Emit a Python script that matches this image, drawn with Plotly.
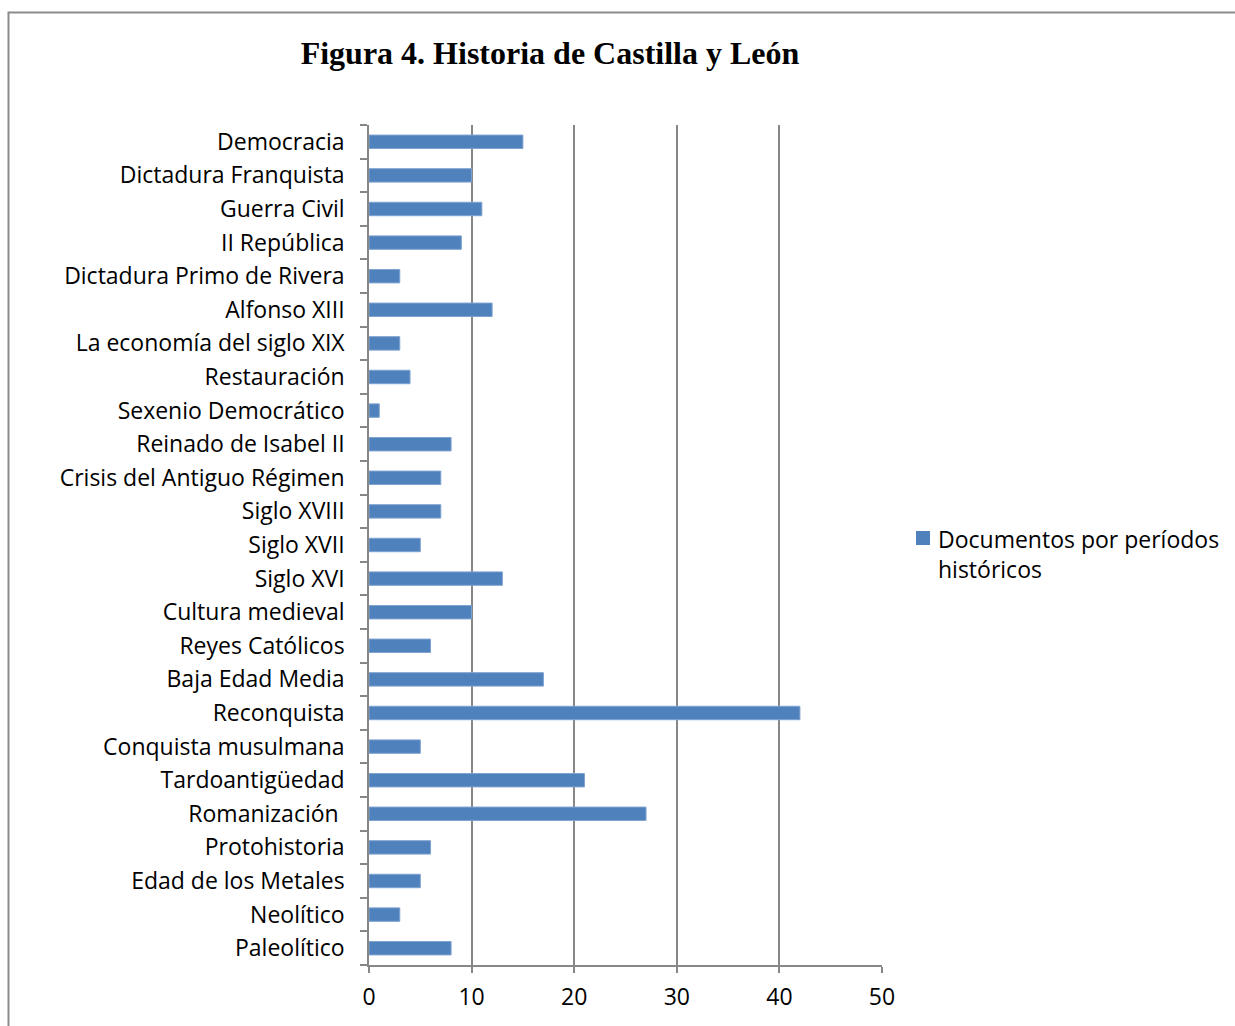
import plotly.graph_objects as go

# Historical periods (top to bottom as displayed) and number of documents per period
periodos = [
    "Democracia", "Dictadura Franquista", "Guerra Civil", "II República",
    "Dictadura Primo de Rivera", "Alfonso XIII", "La economía del siglo XIX",
    "Restauración", "Sexenio Democrático", "Reinado de Isabel II",
    "Crisis del Antiguo Régimen", "Siglo XVIII", "Siglo XVII", "Siglo XVI",
    "Cultura medieval", "Reyes Católicos", "Baja Edad Media", "Reconquista",
    "Conquista musulmana", "Tardoantigüedad", "Romanización ", "Protohistoria",
    "Edad de los Metales", "Neolítico", "Paleolítico",
]
documentos = [15, 10, 11, 9, 3, 12, 3, 4, 1, 8, 7, 7, 5, 13, 10, 6, 17, 42, 5, 21, 27, 6, 5, 3, 8]
x_ticks = [0, 10, 20, 30, 40, 50]
serie = "Documentos por períodos<br>históricos"

W, H = 1235, 1026
ML, MR, MT, MB = 369, 353, 125, 61
PW, PH = W - ML - MR, H - MT - MB

label_font = dict(family="Open Sans, Lato, sans-serif", size=23, color="#000000")
grey = "#878787"
bar_color = "#4F81BD"


def px_x(p):
    return (p - ML) / PW


def px_y(p):
    return 1 - (p - MT) / PH


fig = go.Figure()
fig.add_trace(go.Bar(
    x=documentos,
    y=periodos,
    orientation="h",
    name=serie,
    showlegend=False,
    marker=dict(color=bar_color, line=dict(color="#7FA3D0", width=1)),
))

fig.update_layout(
    width=W, height=H,
    margin=dict(l=ML, r=MR, t=MT, b=MB, pad=0),
    paper_bgcolor="white",
    plot_bgcolor="white",
    bargap=0.6,
    font=label_font,
    title=dict(
        text="<b>Figura 4. Historia de Castilla y León</b>",
        font=dict(family="Liberation Serif, Times New Roman, serif", size=32, color="#000"),
        x=550 / W, xanchor="center", xref="container",
        y=1 - 53 / H, yanchor="middle", yref="container",
    ),
    showlegend=False,
    xaxis=dict(
        range=[0, 50],
        tickvals=x_ticks,
        ticktext=[str(v) for v in x_ticks],
        showgrid=True, gridcolor=grey, gridwidth=1.5,
        showline=True, linecolor=grey, linewidth=1.5,
        ticks="outside", ticklen=6, tickcolor=grey, tickwidth=1.5,
        ticklabelstandoff=5,
        zeroline=False,
        tickfont=label_font,
        fixedrange=True,
    ),
    yaxis=dict(
        categoryorder="array",
        categoryarray=periodos[::-1],
        autorange=True,
        showgrid=False,
        showline=True, linecolor=grey, linewidth=1.5,
        ticks="outside", ticklen=7, tickcolor=grey, tickwidth=1.5,
        tickson="boundaries",
        ticklabelstandoff=18,
        tickfont=label_font,
        fixedrange=True,
    ),
)

# Legend: colour key and series name to the right of the plot
fig.add_shape(
    type="rect", xref="paper", yref="paper",
    x0=px_x(916), x1=px_x(930), y0=px_y(545), y1=px_y(531),
    fillcolor=bar_color, line=dict(width=0),
)
fig.add_annotation(
    xref="paper", yref="paper",
    x=px_x(936), y=px_y(521), xanchor="left", yanchor="top",
    text=serie, showarrow=False, align="left",
    font=label_font,
)

# Outer chart frame (runs off the right and bottom edges of the page)
fig.add_shape(
    type="rect", xref="paper", yref="paper",
    x0=px_x(8.5), x1=px_x(1245), y0=px_y(1040), y1=px_y(12.5),
    line=dict(color="#8C8C8C", width=2),
    layer="below",
)

fig.write_html("out.html")
